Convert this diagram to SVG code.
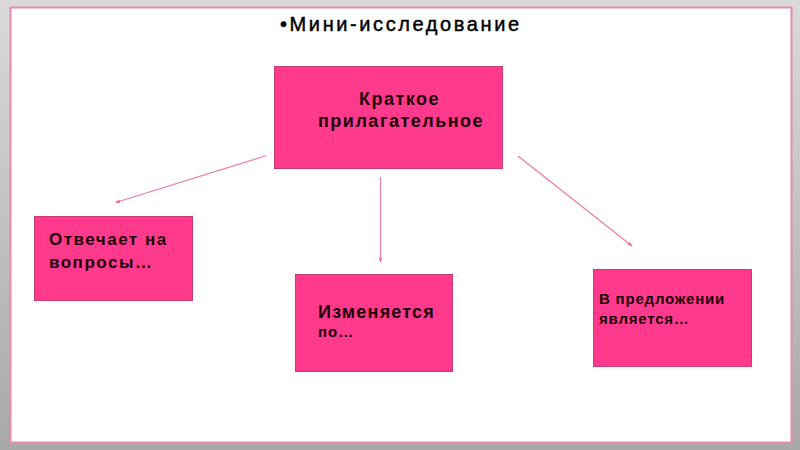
<svg xmlns="http://www.w3.org/2000/svg" width="800" height="450" viewBox="0 0 800 450">
  <defs>
    <linearGradient id="bg" x1="0" y1="0" x2="0" y2="1">
      <stop offset="0" stop-color="#dadada"/>
      <stop offset="1" stop-color="#a8a8a8"/>
    </linearGradient>
    <marker id="arr" viewBox="0 0 10 10" refX="9" refY="5" markerWidth="5" markerHeight="5" orient="auto" markerUnits="userSpaceOnUse">
      <path d="M0,1 L10,5 L0,9 Z" fill="#ee6f9c"/>
    </marker>
    <style>
      .box { fill: #ff3a8c; stroke: #c83a78; stroke-width: 1; }
      .lbl { font-family: "Liberation Sans", Arial, sans-serif; font-weight: bold; fill: #1a0008; }
      .conn { stroke: #ef7aa3; stroke-width: 1.2; fill: none; marker-end: url(#arr); }
    </style>
  </defs>
  <rect x="0" y="0" width="800" height="450" fill="url(#bg)"/>
  <rect x="10.5" y="7.5" width="781" height="435" fill="#ffffff" stroke="#e98aae" stroke-width="2"/>
  <text x="280" y="31" font-family="Liberation Sans, Arial, sans-serif" font-size="20" letter-spacing="2.6" fill="#000000" stroke="#000000" stroke-width="0.45">•Мини-исследование</text>

  <g id="connectors">
    <line class="conn" x1="266.5" y1="155.5" x2="115.5" y2="202.5"/>
    <line class="conn" x1="380.5" y1="177" x2="380.5" y2="262"/>
    <line class="conn" x1="518" y1="156" x2="632" y2="246"/>
  </g>

  <g id="node-main">
    <rect class="box" x="274.5" y="66.5" width="228" height="102"/>
    <text class="lbl" x="359" y="105" font-size="18" letter-spacing="1.5">Краткое</text>
    <text class="lbl" x="318" y="127" font-size="18" letter-spacing="1.5">прилагательное</text>
  </g>

  <g id="node-questions">
    <rect class="box" x="34.5" y="216.5" width="158" height="84"/>
    <text class="lbl" x="49" y="245" font-size="17" letter-spacing="1.5">Отвечает на</text>
    <text class="lbl" x="49" y="268" font-size="17" letter-spacing="1.5">вопросы…</text>
  </g>

  <g id="node-changes">
    <rect class="box" x="295.5" y="274.5" width="157" height="97"/>
    <text class="lbl" x="318" y="318" font-size="18" letter-spacing="1.2">Изменяется</text>
    <text class="lbl" x="318" y="337" font-size="15" letter-spacing="1">по…</text>
  </g>

  <g id="node-sentence">
    <rect class="box" x="593.5" y="269.5" width="158" height="97"/>
    <text class="lbl" x="599" y="304" font-size="15" letter-spacing="0.8">В предложении</text>
    <text class="lbl" x="599" y="324" font-size="15" letter-spacing="0.8">является…</text>
  </g>
</svg>
